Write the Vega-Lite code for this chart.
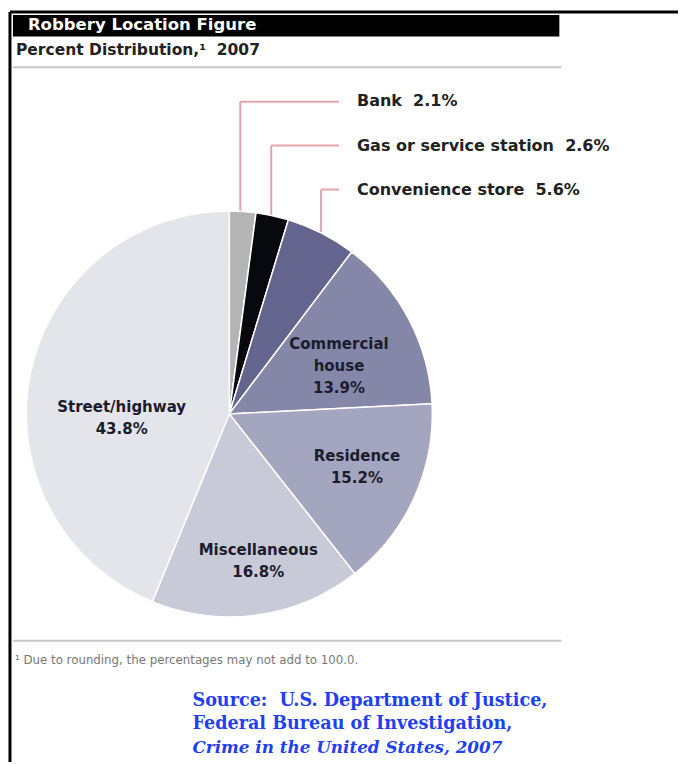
{
  "$schema": "https://vega.github.io/schema/vega-lite/v6.json",
  "width": 680,
  "height": 764,
  "autosize": {"type": "fit", "contains": "padding"},
  "padding": 0,
  "background": "white",
  "config": {"view": {"stroke": null}},
  "datasets": {
    "slices": [
      {"location": "Bank", "percent": 2.1, "rank": 1},
      {"location": "Gas or service station", "percent": 2.6, "rank": 2},
      {"location": "Convenience store", "percent": 5.6, "rank": 3},
      {"location": "Commercial house", "percent": 13.9, "rank": 4},
      {"location": "Residence", "percent": 15.2, "rank": 5},
      {"location": "Miscellaneous", "percent": 16.8, "rank": 6},
      {"location": "Street/highway", "percent": 43.8, "rank": 7}
    ],
    "frame": [
      {"x": -220, "y": 403, "x2": 450, "y2": 403},
      {"x": -220, "y": 403, "x2": -220, "y2": -349}
    ],
    "bar": [{"x": -217, "x2": 331, "y": 400, "y2": 378.5}],
    "separators": [
      {"x": -217, "y": 347.5, "x2": 333, "y2": 347.5},
      {"x": -217, "y": -227.5, "x2": 333, "y2": -227.5}
    ],
    "leaders": [
      {"x": 11, "y": 313, "x2": 11, "y2": 190},
      {"x": 11, "y": 313, "x2": 110, "y2": 313},
      {"x": 42, "y": 269, "x2": 42, "y2": 183},
      {"x": 42, "y": 269, "x2": 110, "y2": 269},
      {"x": 92, "y": 225, "x2": 92, "y2": 170},
      {"x": 92, "y": 225, "x2": 110, "y2": 225}
    ],
    "title": [{"x": -202, "y": 389.5, "text": "Robbery Location Figure"}],
    "subtitle": [{"x": -214, "y": 360, "text": "Percent Distribution,¹ \u00a02007"}],
    "outside": [
      {"x": 128, "y": 314, "text": "Bank \u00a02.1%"},
      {"x": 128, "y": 269, "text": "Gas or service station \u00a02.6%"},
      {"x": 128, "y": 225, "text": "Convenience store \u00a05.6%"}
    ],
    "inside": [
      {"x": 110, "y": 70, "text": "Commercial\nhouse\n13.9%"},
      {"x": 128, "y": -42, "text": "Residence\n15.2%"},
      {"x": 29, "y": -136, "text": "Miscellaneous\n16.8%"},
      {"x": -108, "y": 7, "text": "Street/highway\n43.8%"}
    ],
    "footnote": [{"x": -215, "y": -247, "text": "¹ Due to rounding, the percentages may not add to 100.0."}],
    "source": [
      {"x": -37, "y": -293, "text": "Source: \u00a0U.S. Department of Justice,"},
      {"x": -37, "y": -316, "text": "Federal Bureau of Investigation,"}
    ],
    "sourceItalic": [{"x": -37, "y": -340, "text": "Crime in the United States, 2007"}]
  },
  "layer": [
    {
      "data": {"name": "frame"},
      "mark": {"type": "rule", "color": "#000000", "strokeWidth": 3},
      "encoding": {
        "x": {"field": "x", "type": "quantitative", "scale": {"domain": [-230, 450], "nice": false, "zero": false}, "axis": null},
        "y": {"field": "y", "type": "quantitative", "scale": {"domain": [-349, 415], "nice": false, "zero": false}, "axis": null},
        "x2": {"field": "x2"},
        "y2": {"field": "y2"}
      }
    },
    {
      "data": {"name": "bar"},
      "mark": {"type": "rect", "color": "#000000"},
      "encoding": {
        "x": {"field": "x", "type": "quantitative", "scale": {"domain": [-230, 450], "nice": false, "zero": false}, "axis": null},
        "y": {"field": "y", "type": "quantitative", "scale": {"domain": [-349, 415], "nice": false, "zero": false}, "axis": null},
        "x2": {"field": "x2"},
        "y2": {"field": "y2"}
      }
    },
    {
      "data": {"name": "separators"},
      "mark": {"type": "rule", "color": "#c6c6c6", "strokeWidth": 2},
      "encoding": {
        "x": {"field": "x", "type": "quantitative", "scale": {"domain": [-230, 450], "nice": false, "zero": false}, "axis": null},
        "y": {"field": "y", "type": "quantitative", "scale": {"domain": [-349, 415], "nice": false, "zero": false}, "axis": null},
        "x2": {"field": "x2"},
        "y2": {"field": "y2"}
      }
    },
    {
      "data": {"name": "leaders"},
      "mark": {"type": "rule", "color": "#e6a2aa", "strokeWidth": 2},
      "encoding": {
        "x": {"field": "x", "type": "quantitative", "scale": {"domain": [-230, 450], "nice": false, "zero": false}, "axis": null},
        "y": {"field": "y", "type": "quantitative", "scale": {"domain": [-349, 415], "nice": false, "zero": false}, "axis": null},
        "x2": {"field": "x2"},
        "y2": {"field": "y2"}
      }
    },
    {
      "data": {"name": "slices"},
      "mark": {"type": "arc", "outerRadius": 203, "stroke": "#ffffff", "strokeWidth": 1.5},
      "encoding": {
        "theta": {"field": "percent", "type": "quantitative", "stack": true},
        "order": {"field": "rank", "type": "quantitative", "sort": "ascending"},
        "x": {"datum": 0, "type": "quantitative", "scale": {"domain": [-230, 450], "nice": false, "zero": false}, "axis": null},
        "y": {"datum": 0, "type": "quantitative", "scale": {"domain": [-349, 415], "nice": false, "zero": false}, "axis": null},
        "color": {
          "field": "location",
          "type": "nominal",
          "legend": null,
          "scale": {
            "domain": ["Bank", "Gas or service station", "Convenience store", "Commercial house", "Residence", "Miscellaneous", "Street/highway"],
            "range": ["#b4b4b4", "#08080f", "#63658f", "#8587a9", "#a4a5bf", "#c9cad8", "#e4e4eb"]
          }
        }
      }
    },
    {
      "data": {"name": "title"},
      "mark": {"type": "text", "align": "left", "baseline": "middle", "font": "DejaVu Sans", "fontWeight": "bold", "fontSize": 16.5, "color": "#ffffff"},
      "encoding": {
        "x": {"field": "x", "type": "quantitative", "scale": {"domain": [-230, 450], "nice": false, "zero": false}, "axis": null},
        "y": {"field": "y", "type": "quantitative", "scale": {"domain": [-349, 415], "nice": false, "zero": false}, "axis": null},
        "text": {"field": "text"}
      }
    },
    {
      "data": {"name": "subtitle"},
      "mark": {"type": "text", "align": "left", "baseline": "alphabetic", "font": "DejaVu Sans", "fontWeight": "bold", "fontSize": 15.5, "color": "#222222"},
      "encoding": {
        "x": {"field": "x", "type": "quantitative", "scale": {"domain": [-230, 450], "nice": false, "zero": false}, "axis": null},
        "y": {"field": "y", "type": "quantitative", "scale": {"domain": [-349, 415], "nice": false, "zero": false}, "axis": null},
        "text": {"field": "text"}
      }
    },
    {
      "data": {"name": "outside"},
      "mark": {"type": "text", "align": "left", "baseline": "middle", "font": "DejaVu Sans", "fontWeight": "bold", "fontSize": 16, "color": "#222222"},
      "encoding": {
        "x": {"field": "x", "type": "quantitative", "scale": {"domain": [-230, 450], "nice": false, "zero": false}, "axis": null},
        "y": {"field": "y", "type": "quantitative", "scale": {"domain": [-349, 415], "nice": false, "zero": false}, "axis": null},
        "text": {"field": "text"}
      }
    },
    {
      "data": {"name": "inside"},
      "mark": {"type": "text", "align": "center", "baseline": "middle", "lineBreak": "\n", "lineHeight": 22, "font": "DejaVu Sans", "fontWeight": "bold", "fontSize": 15, "color": "#1b1c2e"},
      "encoding": {
        "x": {"field": "x", "type": "quantitative", "scale": {"domain": [-230, 450], "nice": false, "zero": false}, "axis": null},
        "y": {"field": "y", "type": "quantitative", "scale": {"domain": [-349, 415], "nice": false, "zero": false}, "axis": null},
        "text": {"field": "text"}
      }
    },
    {
      "data": {"name": "footnote"},
      "mark": {"type": "text", "align": "left", "baseline": "middle", "font": "DejaVu Sans", "fontSize": 11.8, "color": "#777777"},
      "encoding": {
        "x": {"field": "x", "type": "quantitative", "scale": {"domain": [-230, 450], "nice": false, "zero": false}, "axis": null},
        "y": {"field": "y", "type": "quantitative", "scale": {"domain": [-349, 415], "nice": false, "zero": false}, "axis": null},
        "text": {"field": "text"}
      }
    },
    {
      "data": {"name": "source"},
      "mark": {"type": "text", "align": "left", "baseline": "alphabetic", "font": "DejaVu Serif", "fontWeight": "bold", "fontSize": 17.6, "color": "#1f3ff2"},
      "encoding": {
        "x": {"field": "x", "type": "quantitative", "scale": {"domain": [-230, 450], "nice": false, "zero": false}, "axis": null},
        "y": {"field": "y", "type": "quantitative", "scale": {"domain": [-349, 415], "nice": false, "zero": false}, "axis": null},
        "text": {"field": "text"}
      }
    },
    {
      "data": {"name": "sourceItalic"},
      "mark": {"type": "text", "align": "left", "baseline": "alphabetic", "font": "DejaVu Serif", "fontWeight": "bold", "fontStyle": "italic", "fontSize": 16.8, "color": "#1f3ff2"},
      "encoding": {
        "x": {"field": "x", "type": "quantitative", "scale": {"domain": [-230, 450], "nice": false, "zero": false}, "axis": null},
        "y": {"field": "y", "type": "quantitative", "scale": {"domain": [-349, 415], "nice": false, "zero": false}, "axis": null},
        "text": {"field": "text"}
      }
    }
  ]
}
